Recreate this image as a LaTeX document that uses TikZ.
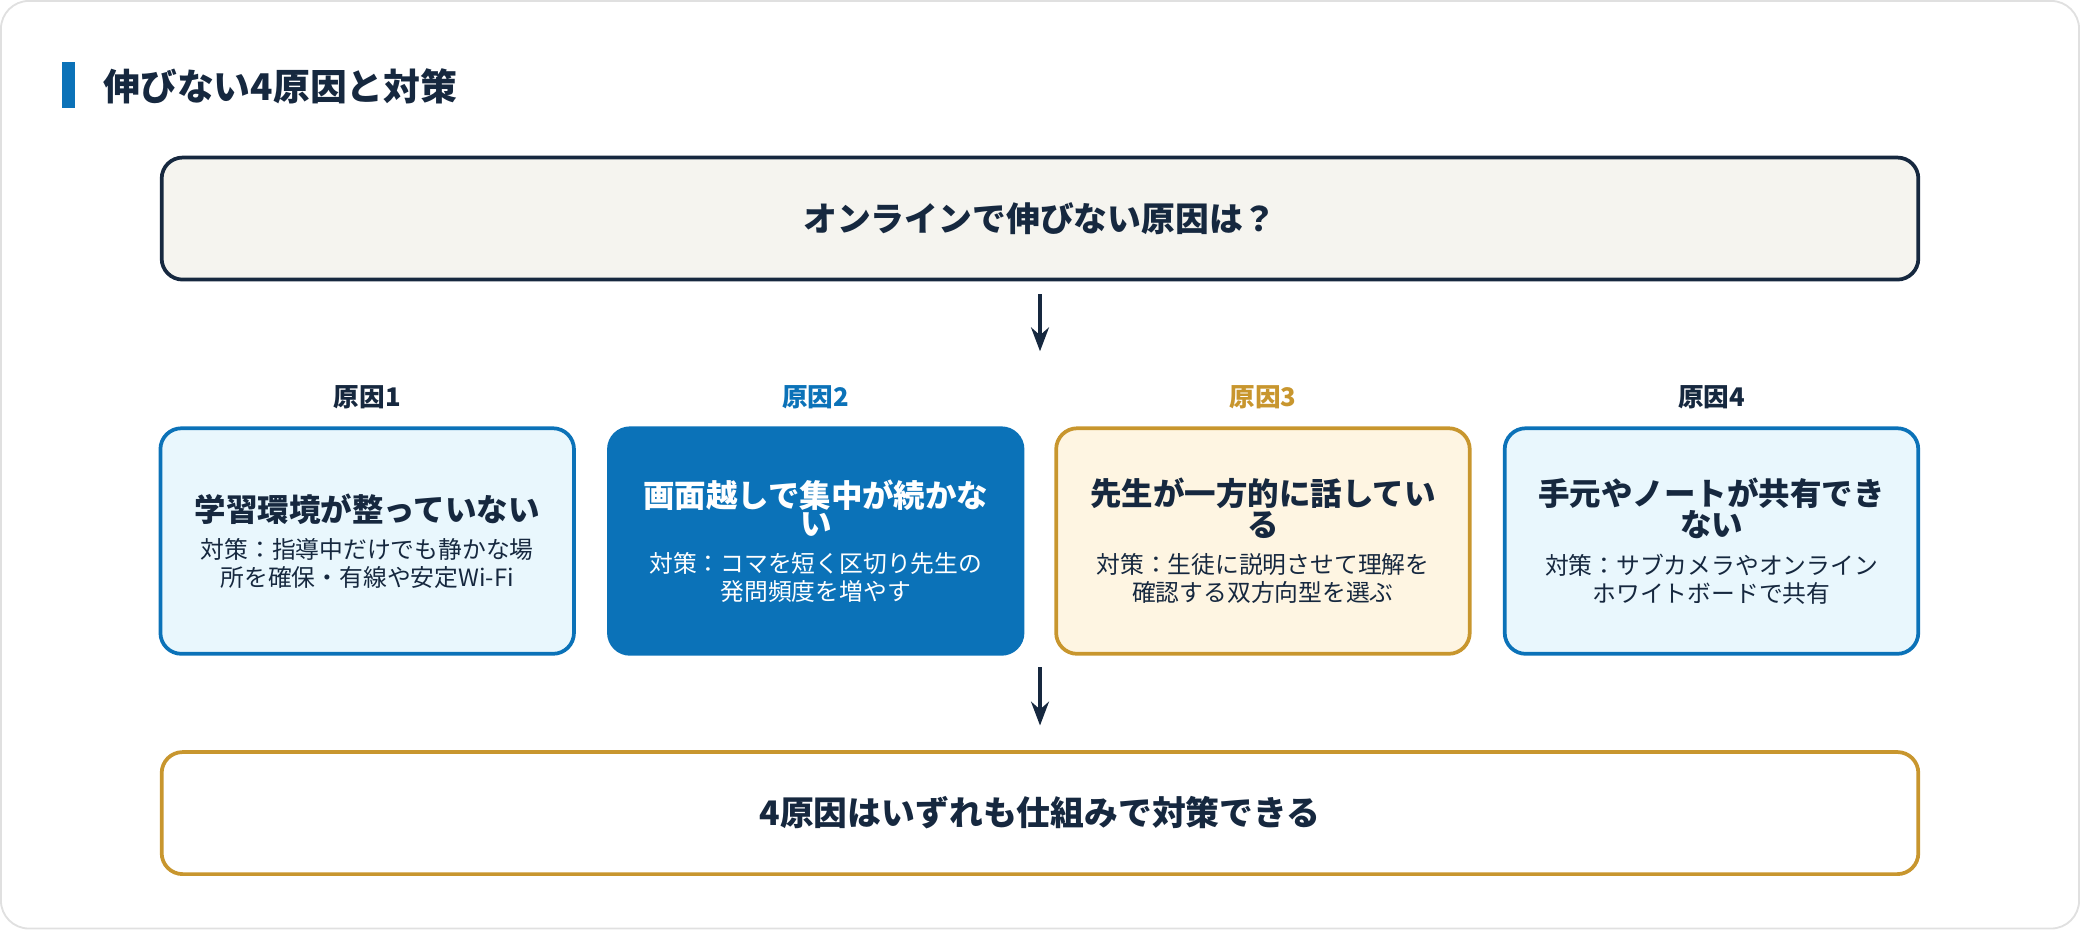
\documentclass[tikz,border=0pt]{standalone}
\usepackage{fontspec}
\setmainfont{Noto Sans CJK JP}
\usetikzlibrary{arrows.meta,positioning}
\definecolor{navy}{HTML}{16283F}
\definecolor{blu}{HTML}{0B72B8}
\definecolor{lblu}{HTML}{E9F7FD}
\definecolor{gold}{HTML}{C8962E}
\definecolor{lgold}{HTML}{FEF5E2}
\definecolor{paper}{HTML}{F5F4EF}
\tikzset{
>=Stealth,
big box/.style={draw=navy,line width=1.6pt,rounded corners=9pt,minimum width=26.48cm,minimum height=1.84cm,font=\fontsize{14.5}{18}\selectfont\bfseries,text=navy},
cause box/.style={line width=1.6pt,rounded corners=9pt,minimum width=6.22cm,minimum height=3.4cm,align=center,text width=6cm},
cause label/.style={font=\fontsize{11}{13}\selectfont\bfseries},
freccia/.style={->,line width=1.6pt,draw=navy}}
\newcommand{\causa}[2]{{\fontsize{13.5}{17}\selectfont\bfseries #1}\\[2pt]{\fontsize{10.2}{14}\selectfont #2}}
\begin{document}
\begin{tikzpicture}[x=0.02cm,y=-0.02cm]
\draw[draw=black!12,line width=0.8pt,rounded corners=12pt] (1,1) rectangle (1567,700);
\fill[blu] (47,47) rectangle (57,82);
\node[anchor=west,font=\fontsize{15.8}{18}\selectfont\bfseries,text=navy] (title) at (72,65) {伸びない4原因と対策};

\node[big box,fill=paper] (q) at (784,165) {オンラインで伸びない原因は？};
\node[big box,draw=gold,fill=white] (res) at (784,613) {4原因はいずれも仕組みで対策できる};

\node[cause box,draw=blu,fill=lblu,text=navy] (c1) at (277,408) {\causa{学習環境が整っていない}{対策：指導中だけでも静かな場\\所を確保・有線や安定Wi-Fi}};
\node[cause box,draw=blu,fill=blu,text=white] (c2) at (615,408) {\causa{画面越しで集中が続かな\\い}{対策：コマを短く区切り先生の\\発問頻度を増やす}};
\node[cause box,draw=gold,fill=lgold,text=navy] (c3) at (952,408) {\causa{先生が一方的に話してい\\る}{対策：生徒に説明させて理解を\\確認する双方向型を選ぶ}};
\node[cause box,draw=blu,fill=lblu,text=navy] (c4) at (1290,408) {\causa{手元やノートが共有でき\\ない}{対策：サブカメラやオンライン\\ホワイトボードで共有}};

\node[cause label,text=navy] (l1) at (277,300) {原因1};
\node[cause label,text=blu] (l2) at (615,300) {原因2};
\node[cause label,text=gold] (l3) at (952,300) {原因3};
\node[cause label,text=navy] (l4) at (1290,300) {原因4};

\coordinate (a1) at (784,222);
\coordinate (a2) at (784,265);
\coordinate (b1) at (784,503);
\coordinate (b2) at (784,547);
\draw[freccia] (a1) -- (a2);
\draw[freccia] (b1) -- (b2);
\end{tikzpicture}
\end{document}
